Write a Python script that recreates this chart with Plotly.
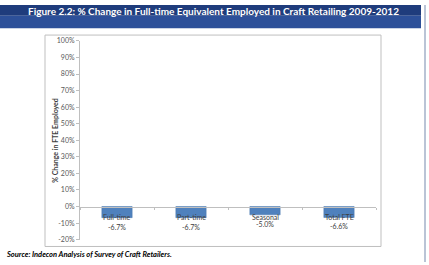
import plotly.graph_objects as go

categories = ["Full-time", "Part-time", "Seasonal", "Total FTE"]
values = [-6.7, -6.7, -5.0, -6.6]
value_labels = ["-6.7%", "-6.7%", "-5.0%", "-6.6%"]
y_ticks = [-20, -10, 0, 10, 20, 30, 40, 50, 60, 70, 80, 90, 100]
y_ticktext = [f"{v}%" for v in y_ticks]
title_text = "Figure 2.2: % Change in Full-time Equivalent Employed in Craft Retailing 2009-2012"
source_text = "Source: Indecon Analysis of Survey of Craft Retailers."
y_title = "% Change in FTE Employed"

W, H = 429, 265
def px(x):
    return x / W
def py(y):
    return 1 - y / H

xs = list(range(len(categories)))
font_main = "Lato, 'Open Sans', sans-serif"

fig = go.Figure()
fig.add_trace(go.Bar(
    x=xs, y=values, width=0.41,
    marker=dict(color="#4F81BD", line=dict(color="#4A78AF", width=0.5)),
    hoverinfo="skip",
))

y0d, y1d = py(242), py(37)
rng = [-20, 100]
zero_pos = y0d + (y1d - y0d) * (0 - rng[0]) / (rng[1] - rng[0])

fig.update_layout(
    width=W, height=H,
    margin=dict(l=0, r=0, t=0, b=0),
    paper_bgcolor="white", plot_bgcolor="white",
    showlegend=False,
    xaxis=dict(
        domain=[px(80), px(376)], range=[-0.5, len(categories) - 0.5],
        tickvals=[i - 0.5 for i in range(len(categories) + 1)],
        ticktext=[""] * (len(categories) + 1),
        ticks="outside", ticklen=2, tickcolor="#BFBFBF",
        showline=True, linecolor="#BFBFBF", linewidth=1,
        showgrid=False, zeroline=False,
        anchor="free", position=zero_pos,
    ),
    yaxis=dict(
        domain=[y0d, y1d], range=rng,
        tickvals=y_ticks, ticktext=y_ticktext,
        ticks="outside", ticklen=3, tickcolor="#BFBFBF",
        showline=True, linecolor="#BFBFBF", linewidth=1,
        showgrid=False, zeroline=False,
        tickfont=dict(family=font_main, size=7, color="#595959"),
    ),
    shapes=[
        dict(type="rect", xref="paper", yref="paper", x0=0, x1=px(421), y0=py(11), y1=1,
             fillcolor="#1F3C7C", line=dict(width=0), layer="below"),
        dict(type="rect", xref="paper", yref="paper", x0=0, x1=px(421), y0=py(24), y1=py(11),
             fillcolor="#2D5099", line=dict(width=0), layer="below"),
        dict(type="line", xref="paper", yref="paper", x0=px(425), x1=px(425), y0=0, y1=1,
             line=dict(color="#A3B0C8", width=1.5)),
        dict(type="rect", xref="paper", yref="paper", x0=px(45), x1=px(381), y0=py(249), y1=py(31),
             line=dict(color="#BFBFBF", width=1), layer="below"),
    ],
)

annotations = [
    dict(text=f"<b>{title_text}</b>", xref="paper", yref="paper", x=px(213), y=py(6),
         xanchor="center", yanchor="middle", showarrow=False,
         font=dict(family=font_main, size=10, color="white")),
    dict(text=f"<b><i>{source_text}</i></b>", xref="paper", yref="paper", x=px(4), y=py(257),
         xanchor="left", yanchor="middle", showarrow=False,
         font=dict(family=font_main, size=7.5, color="#000000")),
    dict(text=f"<b>{y_title}</b>", xref="paper", yref="paper", x=px(55), y=py(139),
         xanchor="center", yanchor="middle", textangle=-90, showarrow=False,
         font=dict(family=font_main, size=7, color="#404040")),
]
for i, (c, v, lab) in enumerate(zip(categories, values, value_labels)):
    annotations.append(dict(text=c, x=i, y=0, xref="x", yref="y", yanchor="top", yshift=-4,
                            showarrow=False, font=dict(family=font_main, size=7, color="#404040")))
    annotations.append(dict(text=lab, x=i, y=v, xref="x", yref="y", yanchor="top", yshift=-3,
                            showarrow=False, font=dict(family=font_main, size=7, color="#404040")))
fig.update_layout(annotations=annotations)

fig.write_html("out.html")
